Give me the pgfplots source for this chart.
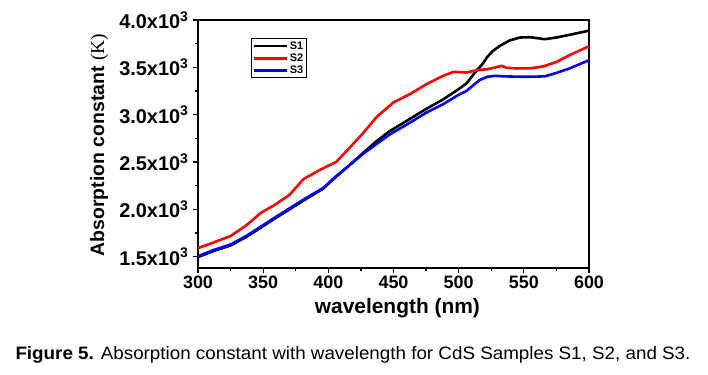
\documentclass[border=0pt]{standalone}
\usepackage{pgfplots}
\pgfplotsset{compat=1.18}
\usepackage{fontspec}
\setmainfont{Liberation Sans}
\newfontfamily\serifK{Liberation Serif}
\usepackage{graphicx}
\begin{document}
\begin{tikzpicture}
\useasboundingbox (0bp,0bp) rectangle (708bp,375bp);
\begin{axis}[
  at={(198bp,107bp)}, anchor=south west,
  width=391bp, height=248bp, scale only axis,
  xmin=300, xmax=600, ymin=1380, ymax=4000,
  xtick={300,350,...,600},
  ytick={1500,2000,...,4000},
  yticklabels={1.5x10\textsuperscript{3},2.0x10\textsuperscript{3},2.5x10\textsuperscript{3},3.0x10\textsuperscript{3},3.5x10\textsuperscript{3},4.0x10\textsuperscript{3}},
  minor x tick num=1, minor y tick num=1,
  tick pos=left, tick align=outside,
  major tick length=5bp, minor tick length=3bp,
  every tick/.style={black, line width=1.2pt},
  axis line style={line width=1.8pt},
  scaled ticks=false,
  /pgf/number format/assume math mode=true,
  /pgf/number format/1000 sep={},
  xticklabel style={font=\fontsize{18}{18}\selectfont\bfseries, yshift=1bp},
  yticklabel style={font=\fontsize{20}{20}\selectfont\bfseries, xshift=-1bp},
  xlabel={\bfseries wavelength (nm)},
  ylabel={\bfseries Absorption constant {\mdseries\serifK (K)}},
  xlabel style={font=\fontsize{21}{21}\selectfont, at={(axis description cs:0.51,-0.161)}, anchor=center},
  ylabel style={font=\fontsize{19.5}{19.5}\selectfont, at={(axis description cs:-0.253,0.496)}, anchor=center},
  legend style={at={(axis description cs:0.135,0.927)}, anchor=north west, draw=black, line width=1pt,
    font=\fontsize{11}{11}\selectfont\bfseries, inner sep=1pt, row sep=-1pt,
    cells={anchor=west}},
  legend image code/.code={\draw[#1, line width=2.6pt] (0bp,0bp) -- (33bp,0bp);},
  every axis plot/.append style={line width=2.6pt, line join=round},
]
\addplot[black] coordinates {
(300,1495) (312,1560) (325,1618) (337,1708) (348,1805) (358,1895) (370,1998) (383,2110) (396,2218) (406,2345) (417,2475) (427,2600) (437,2720) (447,2825) (462,2950) (475,3060) (488,3160) (500,3270) (506,3330) (510,3400) (514,3470) (518,3530) (522,3610) (526,3670) (532,3730) (539,3783) (547,3815) (555,3818) (562,3805) (566,3797) (575,3815) (585,3843) (600,3887)
};
\addplot[red] coordinates {
(300,1590) (312,1650) (325,1718) (337,1830) (348,1960) (358,2040) (370,2150) (381,2320) (394,2420) (406,2500) (419,2690) (427,2810) (437,2975) (450,3130) (463,3220) (475,3320) (488,3410) (496,3452) (506,3445) (514,3470) (522,3480) (530,3505) (533,3515) (537,3495) (545,3488) (555,3490) (565,3510) (575,3557) (585,3628) (600,3723)
};
\addplot[blue] coordinates {
(300,1505) (312,1570) (325,1628) (337,1718) (348,1815) (358,1905) (370,2008) (383,2120) (396,2225) (406,2350) (417,2475) (427,2590) (437,2690) (447,2790) (462,2910) (475,3020) (488,3110) (500,3210) (506,3250) (512,3320) (516,3365) (522,3400) (528,3410) (534,3405) (540,3403) (550,3400) (560,3402) (566,3405) (575,3441) (585,3488) (600,3575)
};
\legend{S1,S2,S3}
\end{axis}
\node at (353bp,20bp) {\resizebox{675bp}{\height}{\fontsize{18}{18}\selectfont\textbf{Figure 5.} Absorption constant with wavelength for CdS Samples S1, S2, and S3.}};
\end{tikzpicture}
\end{document}
